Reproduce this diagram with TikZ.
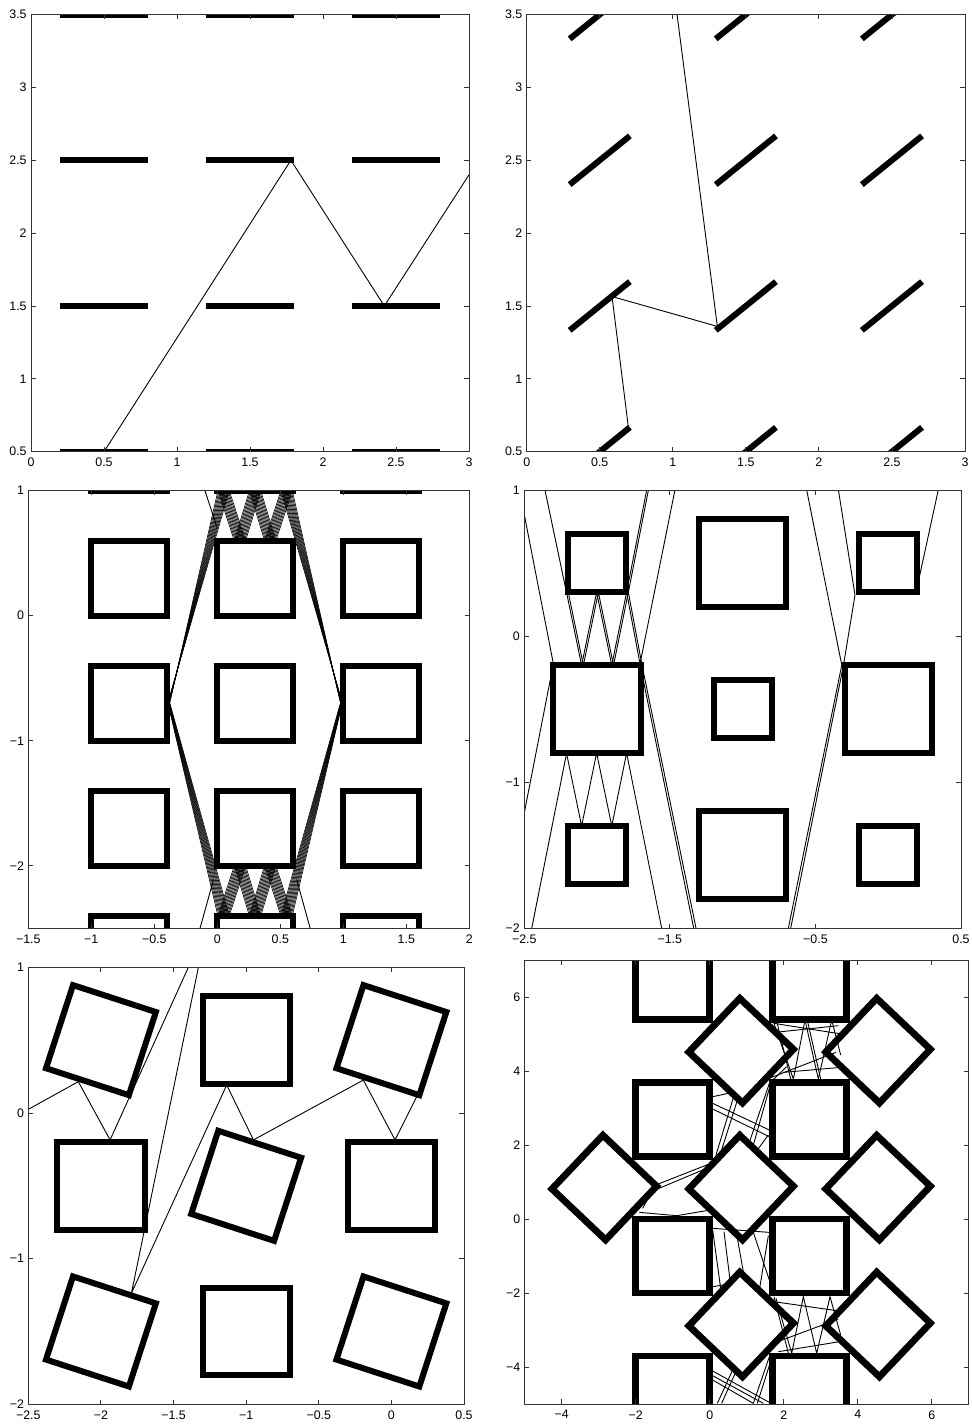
\documentclass[tikz,border=0pt]{standalone}
\usepackage{fontspec}
\setmainfont{Liberation Sans}
\tikzset{
  bar/.style={line width=3pt, line cap=butt},
  sq/.style={line width=3pt, line join=miter},
  ray/.style={line width=0.45pt},
  fray/.style={line width=0.3pt},
  frame/.style={line width=0.45pt, draw=black!80},
  tk/.style={line width=0.45pt, draw=black!80},
  lab/.style={font=\fontsize{6.2}{7}\selectfont, inner sep=0pt},
}
% #1 xmin #2 xmax #3 ymin #4 ymax #5 xticks v/l #6 yticks v/l #7 prefix
\newcommand\myaxes[7]{%
  \draw[frame] (#1,#3) rectangle (#2,#4);
  \foreach \v/\l [count=\i] in {#5} {
    \draw[tk] (\v,#3) -- ++(0,2.3pt);
    \draw[tk] (\v,#4) -- ++(0,-2.3pt);
    \node[lab,anchor=north] (#7x\i) at ([yshift=-3pt]\v,#3) {\l};
  }
  \foreach \v/\l [count=\i] in {#6} {
    \draw[tk] (#1,\v) -- ++(2.3pt,0);
    \draw[tk] (#2,\v) -- ++(-2.3pt,0);
    \node[lab,anchor=east] (#7y\i) at ([xshift=-2pt]#1,\v) {\l};
  }
}
\begin{document}
\begin{tikzpicture}[x=0.5pt,y=-0.5pt]
\useasboundingbox[fill=white] (0,0) rectangle (971,1426);

%% ---------------- Panel 1
\begin{scope}[shift={(31,524.57)}, x=73pt, y=72.865pt]
  \begin{scope}
    \clip (0,0.5) rectangle (3,3.5);
    \foreach \cx in {0.2,1.2,2.2} \foreach \cy in {0.5,1.5,2.5,3.5}
      \draw[bar] (\cx,\cy) -- ++(0.6,0);
    \draw[ray] (0.5,0.5) -- (1.78,2.5) -- (2.42,1.5) -- (3.0,2.40);
  \end{scope}
  \myaxes{0}{3}{0.5}{3.5}{0/0,0.5/0.5,1/1,1.5/1.5,2/2,2.5/2.5,3/3}{0.5/0.5,1/1,1.5/1.5,2/2,2.5/2.5,3/3,3.5/3.5}{a}
\end{scope}

%% ---------------- Panel 2
\begin{scope}[shift={(526.7,524.57)}, x=73.05pt, y=72.865pt]
  \begin{scope}
    \clip (0,0.5) rectangle (3,3.5);
    \foreach \cx in {0.5,1.5,2.5} \foreach \cy in {0.5,1.5,2.5,3.5}
      \draw[bar] (\cx-0.206,\cy-0.167) -- (\cx+0.206,\cy+0.167);
    \draw[ray] (1.029,3.5) -- (1.305,1.36) -- (0.584,1.565) -- (0.695,0.675);
  \end{scope}
  \myaxes{0}{3}{0.5}{3.5}{0/0,0.5/0.5,1/1,1.5/1.5,2/2,2.5/2.5,3/3}{0.5/0.5,1/1,1.5/1.5,2/2,2.5/2.5,3/3,3.5/3.5}{b}
\end{scope}

%% ---------------- Panel 3
\begin{scope}[shift={(217.3,615.7)}, x=63pt, y=62.515pt]
  \begin{scope}
    \clip (-1.5,-2.5) rectangle (2,1);
    \foreach \k in {-5,...,5} {
      \pgfmathsetmacro\u{\k/5}
      \draw[fray]
        (-0.385,{-0.70+0.03*\u}) -- ({0.05+0.045*\u},1.0) -- ({0.18+0.045*\u},0.6)
        -- ({0.30+0.045*\u},1.0) -- ({0.42+0.045*\u},0.6) -- ({0.55+0.045*\u},1.0)
        -- (0.985,{-0.70-0.03*\u})
        -- ({0.55+0.045*\u},-2.4) -- ({0.42+0.045*\u},-2.0) -- ({0.30+0.045*\u},-2.4)
        -- ({0.18+0.045*\u},-2.0) -- ({0.05+0.045*\u},-2.4) -- cycle;
    }
    \draw[ray] (-0.098,1.0) -- (0.0,0.70);
    \draw[ray] (-0.137,-2.5) -- (-0.03,-2.11);
    \draw[ray] (0.737,-2.5) -- (0.63,-2.11);
    \foreach \cx in {-1,0,1} \foreach \cy in {-3,-2,-1,0,1}
      \draw[sq] (\cx,\cy) rectangle ++(0.6,0.6);
  \end{scope}
  \myaxes{-1.5}{2}{-2.5}{1}{-1.5/−1.5,-1/−1,-0.5/−0.5,0/0,0.5/0.5,1/1,1.5/1.5,2/2}{-2/−2,-1/−1,0/0,1/1}{c}
\end{scope}

%% ---------------- Panel 4
\begin{scope}[shift={(888.2,636.1)}, x=72.785pt, y=73.05pt]
  \begin{scope}
    \clip (-2.5,-2) rectangle (0.5,1);
    \draw[ray] (-2.5,0.832) -- (-2.30,-0.19) -- (-2.5,-1.21);
    \draw[ray] (-2.449,-2.0) -- (-2.209,-0.80);
    \draw[ray] (-2.358,1.0) -- (-2.21,0.30) -- (-2.106,-0.2) -- (-2.003,0.30) -- (-1.899,-0.2) -- (-1.797,0.30) -- (-1.659,1.0);
    \draw[ray] (-2.198,0.30) -- (-2.094,-0.2) -- (-1.991,0.30) -- (-1.887,-0.2) -- (-1.785,0.30) -- (-1.647,1.0);
    \draw[ray] (-2.21,-0.8) -- (-2.106,-1.3) -- (-2.003,-0.8) -- (-1.899,-1.3) -- (-1.797,-0.8) -- (-1.556,-2.0);
    \draw[ray] (-1.797,0.30) -- (-1.705,-0.19) -- (-1.336,-2.0);
    \draw[ray] (-1.785,0.30) -- (-1.693,-0.19) -- (-1.320,-2.0);
    \draw[ray] (-1.465,1.0) -- (-1.705,-0.19);
    \draw[ray] (-0.56,1.0) -- (-0.319,-0.198) -- (-0.686,-2.0);
    \draw[ray] (-0.342,1.0) -- (-0.228,0.281) -- (-0.307,-0.198) -- (-0.670,-2.0);
    \draw[ray] (0.344,1.0) -- (0.207,0.373);
    \foreach \cx in {-2,0} {
      \draw[sq] (\cx-0.2,0.3) rectangle ++(0.4,0.4);
      \draw[sq] (\cx-0.3,-0.8) rectangle ++(0.6,0.6);
      \draw[sq] (\cx-0.2,-1.7) rectangle ++(0.4,0.4);
    }
    \draw[sq] (-1.3,0.2) rectangle ++(0.6,0.6);
    \draw[sq] (-1.2,-0.7) rectangle ++(0.4,0.4);
    \draw[sq] (-1.3,-1.8) rectangle ++(0.6,0.6);
  \end{scope}
  \myaxes{-2.5}{0.5}{-2}{1}{-2.5/−2.5,-1.5/−1.5,-0.5/−0.5,0.5/0.5}{-2/−2,-1/−1,0/0,1/1}{d}
\end{scope}

%% ---------------- Panel 5
\begin{scope}[shift={(391.4,1112.96)}, x=72.615pt, y=72.835pt]
  \begin{scope}
    \clip (-2.5,-2) rectangle (0.5,1);
    \draw[ray] (-2.5,0.025) -- (-2.156,0.215) -- (-1.937,-0.185) -- (-1.398,1.0);
    \draw[ray] (-1.329,1.0) -- (-1.79,-1.237) -- (-1.134,0.192) -- (-0.95,-0.185)
       -- (-0.193,0.226) -- (0.025,-0.185) -- (0.186,0.135);
    \foreach \cx/\cy/\r in {-2/0.5/1,-1/0.5/0,0/0.5/1,-2/-0.5/0,-1/-0.5/1,0/-0.5/0,-2/-1.5/1,-1/-1.5/0,0/-1.5/1} {
      \draw[sq, rotate around={-18*\r:(\cx,\cy)}] (\cx-0.3,\cy-0.3) -- (\cx+0.3,\cy-0.3) -- (\cx+0.3,\cy+0.3) -- (\cx-0.3,\cy+0.3) -- cycle;
    }
  \end{scope}
  \myaxes{-2.5}{0.5}{-2}{1}{-2.5/−2.5,-2/−2,-1.5/−1.5,-1/−1,-0.5/−0.5,0/0,0.5/0.5}{-2/−2,-1/−1,0/0,1/1}{e}
\end{scope}

%% ---------------- Panel 6 rays (in magnified reference coordinates)
\begin{scope}
  \clip (524.7,960) rectangle (968.7,1404);
  \begin{scope}[shift={(520,955)}, x=0.16667pt, y=-0.16667pt]
    % upper channel
    \draw[ray] (760,200) -- (820,372) -- (855,195) -- (895,372) -- (935,195) -- (962,300);
    \draw[ray] (770,198) -- (812,372);
    \draw[ray] (862,196) -- (902,372);
    \draw[ray] (762,205) -- (958,236);
    \draw[ray] (765,232) -- (955,212);
    \draw[ray] (752,368) -- (948,292);
    \draw[ray] (790,352) -- (952,338);
    \draw[ray] (748,385) -- (800,335);
    % left-upper gap
    \draw[ray] (578,445) -- (748,525);
    \draw[ray] (578,462) -- (748,545);
    \draw[ray] (578,425) -- (625,415);
    \draw[ray] (640,428) -- (588,600);
    \draw[ray] (652,436) -- (600,600);
    \draw[ray] (748,385) -- (688,562);
    \draw[ray] (748,400) -- (700,570);
    \draw[ray] (745,540) -- (712,585);
    % middle-left
    \draw[ray] (412,688) -- (565,628);
    \draw[ray] (405,705) -- (560,640);
    \draw[ray] (358,772) -- (470,782) -- (570,765);
    \draw[ray] (368,760) -- (400,700);
    % middle-lower gap
    \draw[ray] (578,820) -- (748,832);
    \draw[ray] (578,825) -- (602,1000);
    \draw[ray] (612,830) -- (630,975);
    \draw[ray] (650,838) -- (672,962);
    \draw[ray] (700,832) -- (748,975);
    \draw[ray] (745,842) -- (718,1005);
    \draw[ray] (578,995) -- (620,988);
    % lower channel
    \draw[ray] (768,1030) -- (815,1195) -- (850,1025) -- (890,1195) -- (930,1025) -- (962,1140);
    \draw[ray] (762,1025) -- (805,1195);
    \draw[ray] (762,1040) -- (958,1068);
    \draw[ray] (760,1165) -- (955,1092);
    \draw[ray] (775,1190) -- (958,1160);
    % bottom gap
    \draw[ray] (578,1248) -- (748,1342);
    \draw[ray] (578,1262) -- (730,1345);
    \draw[ray] (578,1275) -- (700,1345);
    \draw[ray] (592,1345) -- (642,1236);
    \draw[ray] (605,1345) -- (652,1240);
    \draw[ray] (700,1345) -- (748,1205);
    \draw[ray] (712,1345) -- (750,1225);
  \end{scope}
\end{scope}

%% ---------------- Panel 6
\begin{scope}[shift={(709.7,1219)}, x=18.5pt, y=18.5pt]
  \begin{scope}
    \clip (-5,-5) rectangle (7,7);
    \foreach \cx in {-1,2.7} \foreach \cy in {-4.7,-1,2.7,6.4}
      \draw[sq, line width=3.4pt] (\cx-1,\cy-1) rectangle ++(2,2);
    \foreach \cx/\cy in {0.85/4.55,4.55/4.55,-2.85/0.85,0.85/0.85,4.55/0.85,0.85/-2.85,4.55/-2.85}
      \draw[sq, line width=3.4pt, rotate around={46.5:(\cx,\cy)}] (\cx-1,\cy-1) -- (\cx+1,\cy-1) -- (\cx+1,\cy+1) -- (\cx-1,\cy+1) -- cycle;
  \end{scope}
  \myaxes{-5}{7}{-5}{7}{-4/−4,-2/−2,0/0,2/2,4/4,6/6}{-4/−4,-2/−2,0/0,2/2,4/4,6/6}{f}
\end{scope}
\end{tikzpicture}
\end{document}
